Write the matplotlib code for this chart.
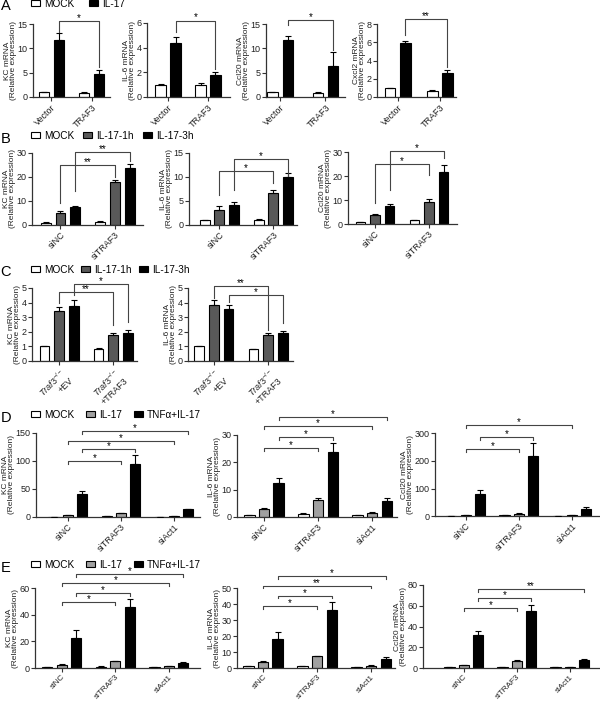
import numpy as np
import matplotlib
matplotlib.use('Agg')
import matplotlib.pyplot as plt
from matplotlib.patches import Patch

plt.rcParams['font.family'] = ['Liberation Sans', 'DejaVu Sans']
plt.rcParams['mathtext.fontset'] = 'custom'
plt.rcParams['mathtext.rm'] = 'Liberation Sans'
plt.rcParams['mathtext.it'] = 'Liberation Sans:italic'
plt.rcParams['font.size'] = 7

W, H = 600, 703
DARK = '#595959'
LIGHT = '#a0a0a0'
LINE = '#333333'

# ---------------- data ----------------
# panel A  (rows = series, cols = groups)
a_groups = ['Vector', 'TRAF3']
a_series = ['MOCK', 'IL-17']
a_kc = [[1.0, 0.9], [11.7, 4.8]]
a_kc_err = [[0.05, 0.1], [1.4, 0.7]]
a_il6 = [[1.0, 1.0], [4.4, 1.75]]
a_il6_err = [[0.05, 0.15], [0.5, 0.25]]
a_ccl20 = [[1.0, 0.9], [11.8, 6.4]]
a_ccl20_err = [[0.05, 0.05], [0.8, 2.9]]
a_cxcl2 = [[1.0, 0.7], [5.9, 2.6]]
a_cxcl2_err = [[0.03, 0.05], [0.25, 0.4]]

# panel B
b_groups = ['siNC', 'siTRAF3']
b_series = ['MOCK', 'IL-17-1h', 'IL-17-3h']
b_kc = [[1.0, 1.3], [5.0, 17.8], [7.5, 23.8]]
b_kc_err = [[0.1, 0.2], [0.9, 0.8], [0.5, 1.8]]
b_il6 = [[1.0, 1.1], [3.2, 6.7], [4.1, 10.0]]
b_il6_err = [[0.05, 0.15], [0.8, 0.6], [0.6, 0.8]]
b_ccl20 = [[0.8, 1.5], [3.8, 9.2], [7.4, 21.5]]
b_ccl20_err = [[0.05, 0.2], [0.4, 1.1], [0.8, 3.0]]

# panel C
c_groups = [r'$\it{Traf3}^{-/-}$' + '\n+EV', r'$\it{Traf3}^{-/-}$' + '\n+TRAF3']
c_series = ['MOCK', 'IL-17-1h', 'IL-17-3h']
c_kc = [[1.0, 0.85], [3.45, 1.75], [3.8, 1.9]]
c_kc_err = [[0.05, 0.05], [0.25, 0.2], [0.35, 0.25]]
c_il6 = [[1.0, 0.8], [3.85, 1.8], [3.55, 1.9]]
c_il6_err = [[0.05, 0.05], [0.3, 0.15], [0.3, 0.15]]

# panel D
d_groups = ['siNC', 'siTRAF3', 'siAct1']
d_series = ['MOCK', 'IL-17', 'TNF\u03b1+IL-17']
d_kc = [[0.5, 1.0, 0.5], [3.0, 7.0, 1.5], [41, 94, 13.5]]
d_kc_err = [[0.1, 0.2, 0.1], [0.5, 1.0, 0.3], [5, 17.5, 1.5]]
d_il6 = [[0.8, 1.2, 0.8], [2.9, 6.1, 1.5], [12.4, 23.6, 6.0]]
d_il6_err = [[0.1, 0.1, 0.1], [0.3, 1.0, 0.3], [1.7, 3.6, 0.8]]
d_ccl20 = [[1, 2, 1], [3, 8, 2], [80, 218, 25.5]]
d_ccl20_err = [[0.3, 0.5, 0.3], [1, 2, 0.5], [14.5, 46, 7.5]]

# panel E
e_groups = ['siNC', 'siTRAF3', 'siAct1']
e_series = ['MOCK', 'IL-17', 'TNF\u03b1+IL-17']
e_kc = [[0.8, 1.0, 0.6], [2.5, 5.0, 1.3], [22.5, 46, 4.0]]
e_kc_err = [[0.1, 0.2, 0.1], [0.4, 0.5, 0.2], [5.9, 6.0, 0.5]]
e_il6 = [[1.0, 1.0, 0.8], [3.8, 7.2, 1.5], [18.3, 36, 5.6]]
e_il6_err = [[0.1, 0.1, 0.1], [0.7, 0.5, 0.3], [4.0, 5.2, 1.2]]
e_ccl20 = [[0.5, 1.0, 0.5], [2.5, 6.5, 1.0], [31.4, 55, 7.5]]
e_ccl20_err = [[0.1, 0.1, 0.1], [0.5, 1.0, 0.2], [4.4, 6.0, 1.0]]

# significance brackets: (group1, series1, group2, series2, height, left leg end, right leg end, label)
a_kc_sig = [(0, 1, 1, 1, 15.7, 13.4, 6.2, '*')]
a_il6_sig = [(0, 1, 1, 1, 6.2, 5.3, 2.3, '*')]
a_ccl20_sig = [(0, 1, 1, 1, 15.9, 14.8, 9.6, '*')]
a_cxcl2_sig = [(0, 1, 1, 1, 8.55, 6.8, 3.3, '**')]
b_kc_sig = [(0, 1, 1, 1, 25.1, 9.1, 20.2, '**'), (0, 2, 1, 2, 30.3, 14.0, 26.5, '**')]
b_il6_sig = [(0, 1, 1, 1, 11.3, 6.3, 8.7, '*'), (0, 2, 1, 2, 13.8, 7.3, 10.3, '*')]
b_ccl20_sig = [(0, 1, 1, 1, 25.1, 8.75, 20.5, '*'), (0, 2, 1, 2, 30.3, 14.3, 27.5, '*')]
c_kc_sig = [(0, 1, 1, 1, 4.7, 3.97, 2.46, '**'), (0, 2, 1, 2, 5.3, 4.5, 2.7, '*')]
c_il6_sig = [(0, 1, 1, 1, 5.15, 4.3, 2.1, '**'), (0, 2, 1, 2, 4.5, 4.05, 2.6, '*')]
# short-legged brackets: (group1, series1, group2, series2, height, label)
d_kc_sig = [(0, 1, 1, 1, 100, '*'), (0, 2, 1, 2, 121, '*'), (0, 1, 2, 1, 136, '*'), (0, 2, 2, 2, 154, '*')]
d_il6_sig = [(0, 1, 1, 1, 25.1, '*'), (0, 2, 1, 2, 29.4, '*'), (0, 1, 2, 1, 33.4, '*'), (0, 2, 2, 2, 36.7, '*')]
d_ccl20_sig = [(0, 1, 1, 1, 242, '*'), (0, 2, 1, 2, 287, '*'), (0, 1, 2, 1, 331, '*')]
e_kc_sig = [(0, 1, 1, 1, 49.6, '*'), (0, 2, 1, 2, 56.3, '*'), (0, 1, 2, 1, 63.7, '*'), (0, 2, 2, 2, 70.6, '*')]
e_il6_sig = [(0, 1, 1, 1, 38.5, '*'), (0, 2, 1, 2, 45.2, '*'), (0, 1, 2, 1, 51.5, '**'), (0, 2, 2, 2, 57.3, '*')]
e_ccl20_sig = [(0, 1, 1, 1, 57.6, '*'), (0, 2, 1, 2, 67.2, '*'), (0, 2, 2, 2, 76.2, '**')]

fig = plt.figure(figsize=(6, 7.03), dpi=100)


def px_axes(left, right, zero, top):
    # place an axes by its pixel edges (y of the 0 line and of the top tick)
    return fig.add_axes([left / W, 1 - zero / H, (right - left) / W, (zero - top) / H])


def bar_chart(rect, groups, means, errs, colors, gene, yticks, xlim, width, off, xfs=6.5):
    ax = px_axes(*rect)
    x = np.arange(len(groups))
    n = len(means)
    offs = [(i - (n - 1) / 2) * off for i in range(n)]
    for i in range(n):
        ax.bar(x + offs[i], means[i], width, color=colors[i], edgecolor='black',
               linewidth=0.8, zorder=2)
        ax.errorbar(x + offs[i], means[i], yerr=[np.zeros(len(groups)), errs[i]],
                    fmt='none', ecolor='black', elinewidth=0.8, capsize=2.2,
                    capthick=0.8, zorder=3)
    ax.set_xlim(*xlim)
    ax.set_ylim(0, yticks[-1])
    ax.set_yticks(yticks)
    ax.set_xticks(x)
    ax.tick_params(length=3, width=0.8, colors=LINE, labelcolor='#222222',
                   labelsize=6.5, pad=1.0)
    ax.set_xticklabels(groups, rotation=45, ha='right', va='top',
                       rotation_mode='anchor', fontsize=xfs)
    ax.spines['top'].set_visible(False)
    ax.spines['right'].set_visible(False)
    for s in ['left', 'bottom']:
        ax.spines[s].set_color(LINE)
        ax.spines[s].set_linewidth(0.9)
    ax.set_ylabel(gene + ' mRNA\n(Relative expression)', fontsize=6.0,
                  labelpad=0.3, linespacing=0.85, color='#222222')
    return ax, offs


def long_brackets(ax, offs, specs):
    for g1, s1, g2, s2, y, yl, yr, lab in specs:
        x1, x2 = g1 + offs[s1], g2 + offs[s2]
        ax.plot([x1, x1, x2, x2], [yl, y, y, yr], color='#444444', lw=0.8,
                clip_on=False, zorder=4)
        ax.text((x1 + x2) / 2, y, lab, ha='center', va='baseline', fontsize=7,
                clip_on=False)


def short_brackets(ax, offs, specs, ymax):
    leg = ymax * 0.035
    for g1, s1, g2, s2, y, lab in specs:
        x1, x2 = g1 + offs[s1], g2 + offs[s2]
        ax.plot([x1, x1, x2, x2], [y - leg, y, y, y - leg], color='#444444',
                lw=0.8, clip_on=False, zorder=4)
        ax.text((x1 + x2) / 2, y, lab, ha='center', va='baseline', fontsize=7,
                clip_on=False)


def legend(labels, colors, ypx, spacing):
    handles = [Patch(facecolor=c, edgecolor='black', linewidth=0.8) for c in colors]
    fig.legend(handles, labels, loc='center left', bbox_to_anchor=(31 / W, 1 - ypx / H),
               ncol=len(labels), frameon=False, fontsize=7.2, handlelength=0.9,
               handleheight=0.55, handletextpad=0.4, columnspacing=spacing,
               borderaxespad=0, borderpad=0)


# ---------------- panel A ----------------
ca = ['white', 'black']
ax, offs = bar_chart((33, 110, 97, 24), a_groups, a_kc, a_kc_err, ca, 'KC',
                     [0, 5, 10, 15], (-0.46, 1.46), 0.25, 0.38)
long_brackets(ax, offs, a_kc_sig)
ax, offs = bar_chart((147, 230, 97, 23), a_groups, a_il6, a_il6_err, ca, 'IL-6',
                     [0, 2, 4, 6], (-0.525, 1.55), 0.27, 0.375)
long_brackets(ax, offs, a_il6_sig)
ax, offs = bar_chart((266, 345, 97, 24), a_groups, a_ccl20, a_ccl20_err, ca, 'Ccl20',
                     [0, 5, 10, 15], (-0.31, 1.43), 0.23, 0.34)
long_brackets(ax, offs, a_ccl20_sig)
ax, offs = bar_chart((377, 456, 97, 24), a_groups, a_cxcl2, a_cxcl2_err, ca, 'Cxcl2',
                     [0, 2, 4, 6, 8], (-0.49, 1.39), 0.26, 0.36)
long_brackets(ax, offs, a_cxcl2_sig)
legend(a_series, ca, 4, 1.5)

# ---------------- panel B ----------------
cb = ['white', DARK, 'black']
ax, offs = bar_chart((32, 143, 225, 153), b_groups, b_kc, b_kc_err, cb, 'KC',
                     [0, 10, 20, 30], (-0.52, 1.51), 0.18, 0.27)
long_brackets(ax, offs, b_kc_sig)
ax, offs = bar_chart((189, 297, 225, 153), b_groups, b_il6, b_il6_err, cb, 'IL-6',
                     [0, 5, 10, 15], (-0.56, 1.44), 0.18, 0.27)
long_brackets(ax, offs, b_il6_sig)
ax, offs = bar_chart((348, 457, 224, 152), b_groups, b_ccl20, b_ccl20_err, cb, 'Ccl20',
                     [0, 10, 20, 30], (-0.5, 1.52), 0.18, 0.27)
long_brackets(ax, offs, b_ccl20_sig)
legend(b_series, cb, 136, 0.9)

# ---------------- panel C ----------------
ax, offs = bar_chart((32, 137, 361, 288), c_groups, c_kc, c_kc_err, cb, 'KC',
                     [0, 1, 2, 3, 4, 5], (-0.5, 1.44), 0.18, 0.27)
long_brackets(ax, offs, c_kc_sig)
ax, offs = bar_chart((188, 293, 361, 288), c_groups, c_il6, c_il6_err, cb, 'IL-6',
                     [0, 1, 2, 3, 4, 5], (-0.48, 1.46), 0.18, 0.27)
long_brackets(ax, offs, c_il6_sig)
legend(c_series, cb, 270, 0.7)

# ---------------- panel D ----------------
cd = ['white', LIGHT, 'black']
ax, offs = bar_chart((36, 200, 517, 433), d_groups, d_kc, d_kc_err, cd, 'KC',
                     [0, 50, 100, 150], (-0.6, 2.49), 0.19, 0.27)
short_brackets(ax, offs, d_kc_sig, 150)
ax, offs = bar_chart((237, 397, 517, 435), d_groups, d_il6, d_il6_err, cd, 'IL-6',
                     [0, 10, 20, 30], (-0.5, 2.46), 0.19, 0.27)
short_brackets(ax, offs, d_il6_sig, 30)
ax, offs = bar_chart((435, 600, 516, 433.5), d_groups, d_ccl20, d_ccl20_err, cd, 'Ccl20',
                     [0, 100, 200, 300], (-0.58, 2.53), 0.19, 0.27)
short_brackets(ax, offs, d_ccl20_sig, 300)
legend(d_series, cd, 415, 1.2)

# ---------------- panel E ----------------
ax, offs = bar_chart((35, 200, 668, 588), e_groups, e_kc, e_kc_err, cd, 'KC',
                     [0, 20, 40, 60], (-0.5, 2.58), 0.19, 0.27, xfs=5.9)
short_brackets(ax, offs, e_kc_sig, 60)
ax, offs = bar_chart((237, 395, 668, 588), e_groups, e_il6, e_il6_err, cd, 'IL-6',
                     [0, 10, 20, 30, 40, 50], (-0.48, 2.44), 0.19, 0.27, xfs=5.9)
short_brackets(ax, offs, e_il6_sig, 50)
ax, offs = bar_chart((423, 600, 668, 585), e_groups, e_ccl20, e_ccl20_err, cd, 'Ccl20',
                     [0, 20, 40, 60, 80], (-0.77, 2.57), 0.19, 0.27, xfs=5.9)
short_brackets(ax, offs, e_ccl20_sig, 80)
legend(e_series, cd, 565, 1.2)

# panel letters
for letter, ypx in [('A', -1), ('B', 132), ('C', 265), ('D', 411), ('E', 561)]:
    fig.text(0.5 / W, 1 - ypx / H, letter, fontsize=10.5, va='top', ha='left')

fig.savefig('out.png', dpi=100)
